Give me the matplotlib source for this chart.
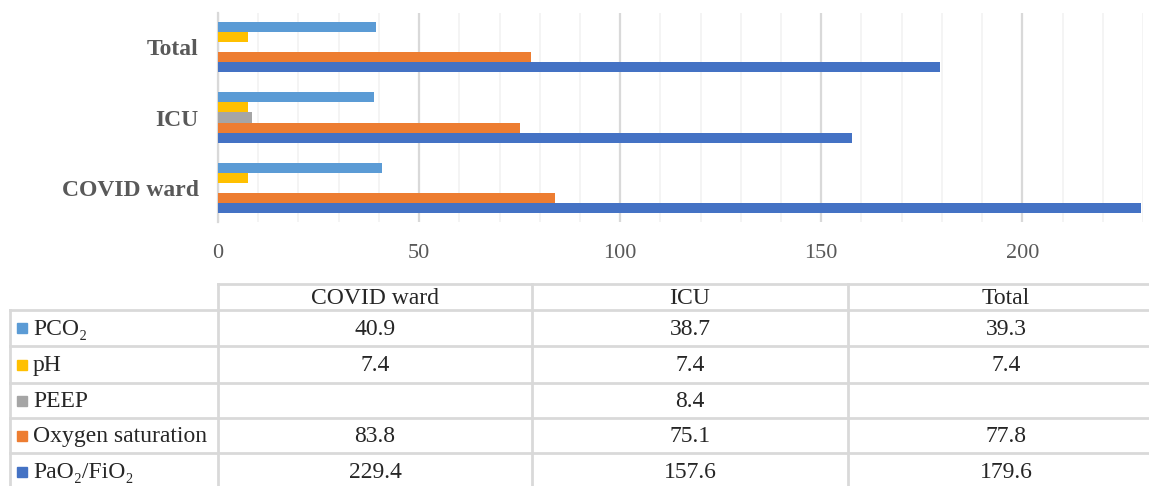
import numpy as np
import matplotlib
matplotlib.use('Agg')
from matplotlib import pyplot as plt
from matplotlib.ticker import MultipleLocator

plt.rcParams['font.family'] = ['Liberation Serif', 'DejaVu Serif']

# data
groups = ['COVID ward', 'ICU', 'Total']
series = ['PCO\u2082', 'pH', 'PEEP', 'Oxygen saturation', 'PaO\u2082/FiO\u2082']
pco2 = [40.9, 38.7, 39.3]
ph = [7.4, 7.4, 7.4]
peep = [np.nan, 8.4, np.nan]
oxygen = [83.8, 75.1, 77.8]
pao2 = [229.4, 157.6, 179.6]
values = [pco2, ph, peep, oxygen, pao2]
colors = ['#5B9BD5', '#FFC000', '#A5A5A5', '#ED7D31', '#4472C4']

W, H = 1149, 486
fig = plt.figure(figsize=(W / 100, H / 100), dpi=100)

# bar chart area (pixel layout)
left, right, top, bottom = 218, 1143, 13, 222
ax = fig.add_axes([left / W, 1 - bottom / H, (right - left) / W, (bottom - top) / H])

y = np.arange(len(groups))
h = 0.143
offsets = [2 * h, h, 0, -h, -2 * h]
for vals, off, col in zip(values, offsets, colors):
    ax.barh(y + off, vals, height=h, color=col, zorder=3)

ax.set_xlim(0, 230)
ax.set_ylim(-0.49, 2.49)
ax.xaxis.set_major_locator(MultipleLocator(50))
ax.xaxis.set_minor_locator(MultipleLocator(10))
ax.grid(axis='x', which='major', color='#d9d9d9', linewidth=1.6, zorder=0)
ax.grid(axis='x', which='minor', color='#f2f2f2', linewidth=1.2, zorder=0)
for s in ['top', 'right', 'bottom']:
    ax.spines[s].set_visible(False)
ax.spines['left'].set_color('#d9d9d9')
ax.spines['left'].set_linewidth(1.6)
ax.set_yticks(y)
ax.set_yticklabels(groups, fontsize=17, fontweight='bold', color='#595959')
ax.tick_params(axis='y', length=0, pad=14)
ax.tick_params(axis='x', which='both', length=0, pad=16, labelsize=16, labelcolor='#595959')

# data table below
tab = fig.add_axes([0, 0, 1, 1])
tab.set_xlim(0, W)
tab.set_ylim(H, 0)
tab.axis('off')

col_edges = [10, 218, 532, 848, 1164]
row_edges = [284, 310, 346, 383, 418, 453, 490]
line_kw = dict(color='#d9d9d9', linewidth=2, clip_on=True)
fs = 17

tab.plot([col_edges[1], W], [row_edges[0], row_edges[0]], **line_kw)
for x in col_edges[1:]:
    tab.plot([x, x], [row_edges[0], row_edges[-1]], **line_kw)
tab.plot([col_edges[0], col_edges[0]], [row_edges[1], row_edges[-1]], **line_kw)
for yy in row_edges[1:]:
    tab.plot([col_edges[0], W], [yy, yy], **line_kw)

for j, g in enumerate(groups):
    cx = (col_edges[j + 1] + col_edges[j + 2]) / 2
    tab.text(cx, (row_edges[0] + row_edges[1]) / 2 + 1, g, ha='center', va='center',
             fontsize=fs, color='#262626')

for i, (name, vals, col) in enumerate(zip(series, values, colors)):
    cy = (row_edges[i + 1] + row_edges[i + 2]) / 2 + 1
    tab.add_patch(plt.Rectangle((17, cy - 6), 10, 10, color=col))
    tab.text(33, cy, name, ha='left', va='center', fontsize=fs, color='#262626')
    for j, v in enumerate(vals):
        if np.isnan(v):
            continue
        cx = (col_edges[j + 1] + col_edges[j + 2]) / 2
        tab.text(cx, cy, f'{v:.1f}', ha='center', va='center', fontsize=fs, color='#262626')

fig.savefig('out.png', dpi=100)
